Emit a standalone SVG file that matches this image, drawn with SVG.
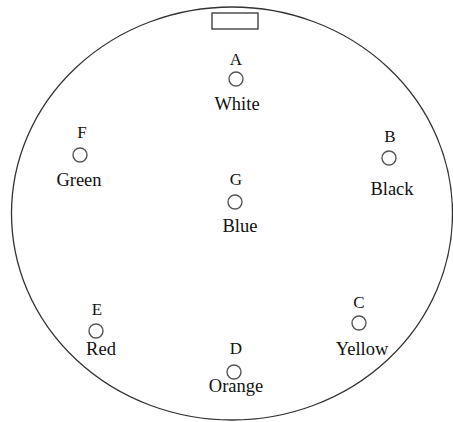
<svg xmlns="http://www.w3.org/2000/svg" width="453" height="422" viewBox="0 0 453 422">
<style>
.outline{fill:none;stroke:#333;stroke-width:1.3}
.pin{fill:#fff;stroke:#555;stroke-width:1.4}
.lt{font-family:"Liberation Serif","Times New Roman",serif;font-size:17px;fill:#111;text-anchor:middle}
.lb{font-family:"Liberation Serif","Times New Roman",serif;font-size:18.5px;fill:#111;text-anchor:middle}
</style>
<rect width="453" height="422" fill="#fff"/>
<g id="body">
<ellipse class="outline" cx="232" cy="213.5" rx="220.5" ry="206.5"/>
<rect class="outline" x="212" y="13" width="46" height="16"/>
</g>
<g id="connectors"/>
<g id="A"><text class="lt" x="236" y="65">A</text><circle class="pin" cx="236" cy="79" r="7"/><text class="lb" x="237" y="110">White</text></g>
<g id="B"><text class="lt" x="390" y="142">B</text><circle class="pin" cx="389" cy="158" r="7"/><text class="lb" x="392" y="195">Black</text></g>
<g id="C"><text class="lt" x="359" y="308">C</text><circle class="pin" cx="359" cy="323" r="7"/><text class="lb" x="362" y="355">Yellow</text></g>
<g id="D"><text class="lt" x="236" y="354">D</text><circle class="pin" cx="234" cy="372" r="7"/><text class="lb" x="236" y="392">Orange</text></g>
<g id="E"><text class="lt" x="97" y="315">E</text><circle class="pin" cx="96" cy="331" r="7"/><text class="lb" x="101" y="355">Red</text></g>
<g id="F"><text class="lt" x="82" y="138">F</text><circle class="pin" cx="80" cy="155" r="7"/><text class="lb" x="79" y="186">Green</text></g>
<g id="G"><text class="lt" x="236" y="185">G</text><circle class="pin" cx="235" cy="202" r="7"/><text class="lb" x="240" y="232">Blue</text></g>
</svg>
